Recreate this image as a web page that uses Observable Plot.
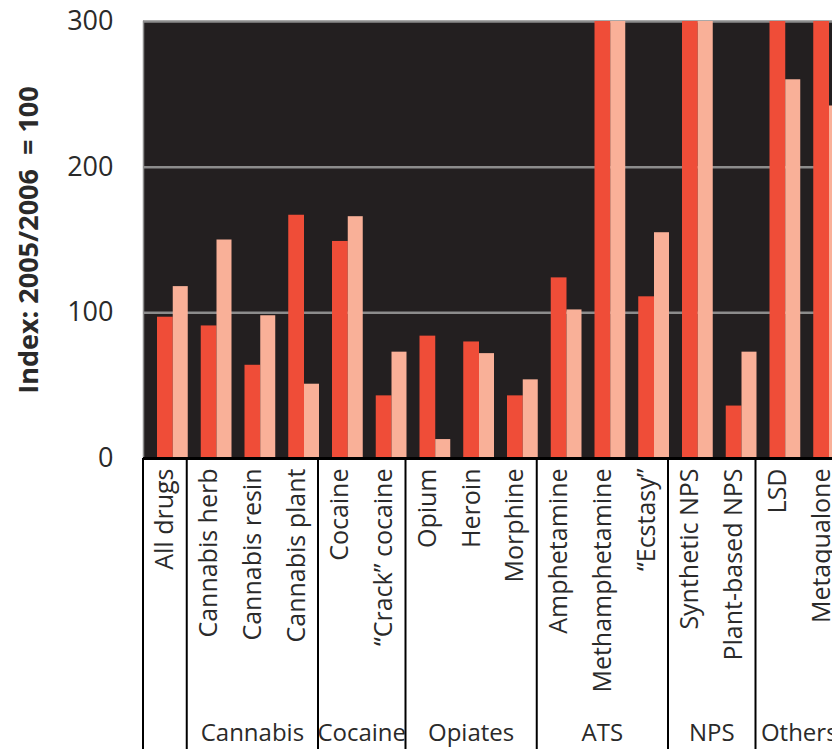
<!DOCTYPE html>
<html>
<head>
<meta charset="utf-8">
<script src="https://cdn.jsdelivr.net/npm/d3@7"></script>
<script src="https://cdn.jsdelivr.net/npm/@observablehq/plot@0.6"></script>
<style>
  html, body { margin: 0; padding: 0; background: #fff; overflow: hidden; }
  #chart { width: 832px; height: 749px; overflow: hidden; }
  #chart svg { max-width: none !important; }
</style>
</head>
<body>
<div id="chart"></div>
<script>
const categories = ["All drugs", "Cannabis herb", "Cannabis resin", "Cannabis plant", "Cocaine", "\u201cCrack\u201d cocaine", "Opium", "Heroin", "Morphine", "Amphetamine", "Methamphetamine", "\u201cEcstasy\u201d", "Synthetic NPS", "Plant-based NPS", "LSD", "Metaqualone"];
const groups = ["", "Cannabis", "Cannabis", "Cannabis", "Cocaine", "Cocaine", "Opiates", "Opiates", "Opiates", "ATS", "ATS", "ATS", "NPS", "NPS", "Others", "Others"];
const seriesA = [97, 91, 64, 167, 149, 43, 84, 80, 43, 124, 400, 111, 400, 36, 400, 400];
const seriesB = [118, 150, 98, 51, 166, 73, 13, 72, 54, 102, 400, 155, 400, 73, 260, 242];
const yTicks = [0, 100, 200, 300];
const yLabel = "Index: 2005/2006 \u00a0= 100";

const FONT = "'Open Sans', sans-serif";
const TEXT = "#2a2a2a";

const chart = Plot.plot({
  width: 843,
  height: 749,
  marginLeft: 143,
  marginRight: 0,
  marginTop: 21,
  marginBottom: 291,
  style: {fontFamily: FONT, fontSize: "24px", color: TEXT, background: "transparent", overflow: "visible", maxWidth: "none"},
  x: {domain: categories, padding: 0, round: false, axis: null},
  y: {domain: [0, 300], axis: null},
  marks: [
    Plot.frame({fill: "#231f20", stroke: null}),
    Plot.ruleY(yTicks.slice(1), {stroke: "#8c8c8c", strokeWidth: 2.5}),
    Plot.frame({anchor: "left", stroke: "#8c8c8c", strokeWidth: 1.5}),
    Plot.barY(categories, {x: d => d, y: (d, i) => seriesA[i], fill: "#ef4d38", insetLeft: 14, insetRight: 14, clip: true}),
    Plot.barY(categories, {x: d => d, y: (d, i) => seriesB[i], fill: "#f9b098", insetLeft: 29.75, insetRight: -1, clip: true}),
    Plot.ruleY([0], {stroke: "#000", strokeWidth: 3}),
    Plot.axisY({ticks: yTicks, tickSize: 0, tickPadding: 30, fontSize: 27, label: null, color: TEXT}),
    Plot.axisX({tickSize: 0, tickPadding: 10, tickRotate: -90, fontSize: 25, label: null, color: TEXT}),
    Plot.text([yLabel], {frameAnchor: "left", textAnchor: "middle", dx: -114, rotate: -90, fontWeight: "bold", fontSize: 27, fill: TEXT})
  ]
});

// Table of category / group separators drawn from Plot's own scales
const X = chart.scale("x");
const Y = chart.scale("y");
const bw = X.bandwidth;
const y0 = Y.apply(0);
const yBottom = 749;
const svg = d3.select(chart);
const g = svg.append("g");
const bounds = [];
groups.forEach((grp, i) => { if (i === 0 || grp !== groups[i - 1]) bounds.push(i); });
const edges = bounds.map(i => X.apply(categories[i]));
edges.push(X.apply(categories[categories.length - 1]) + bw);
g.selectAll("line").data(edges).join("line")
  .attr("x1", d => d).attr("x2", d => d)
  .attr("y1", y0).attr("y2", yBottom)
  .attr("stroke", "#000").attr("stroke-width", 2);
const spans = bounds.map((start, k) => {
  const end = k + 1 < bounds.length ? bounds[k + 1] : categories.length;
  return {label: groups[start], x: (X.apply(categories[start]) + X.apply(categories[end - 1]) + bw) / 2};
}).filter(d => d.label);
g.selectAll("text").data(spans).join("text")
  .attr("x", d => d.x).attr("y", 733).attr("dy", "0.35em")
  .attr("text-anchor", "middle")
  .attr("font-family", FONT).attr("font-size", 24).attr("fill", TEXT)
  .text(d => d.label);

document.getElementById("chart").appendChild(chart);
</script>
</body>
</html>
